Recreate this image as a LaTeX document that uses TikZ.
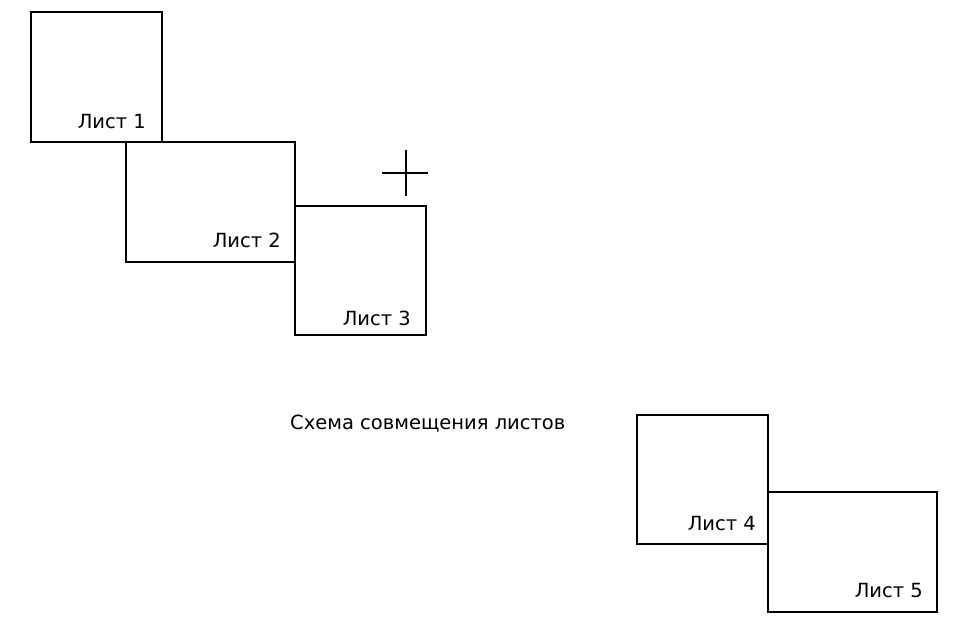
\documentclass[tikz,border=0pt]{standalone}
\usepackage{fontspec}
\setmainfont{DejaVu Sans}

\begin{document}
\begin{tikzpicture}[x=1pt, y=-1pt,
    sheet/.style={draw, line width=1.4pt},
    sheetlabel/.style={anchor=base east, inner sep=0pt, font=\fontsize{19.5}{19.5}\selectfont}]
    \useasboundingbox (0,0) rectangle (955,630);
    \draw[sheet] (31,12) rectangle (162,142);
    \draw[sheet] (126,142) rectangle (295,262);
    \draw[sheet] (295,206) rectangle (426,335);
    \draw[sheet] (637,415) rectangle (768,544);
    \draw[sheet] (768,492) rectangle (937,612);
    \node[sheetlabel] (list1) at (146,128) {Лист 1};
    \node[sheetlabel] (list2) at (281,247) {Лист 2};
    \node[sheetlabel] (list3) at (411,325) {Лист 3};
    \node[sheetlabel] (list4) at (756,530) {Лист 4};
    \node[sheetlabel] (list5) at (923,597) {Лист 5};
    \node[sheetlabel, anchor=base west] (title) at (290,429) {Схема совмещения листов};
    \draw[sheet] (382,173) -- (428,173);
    \draw[sheet] (406,150) -- (406,196);
\end{tikzpicture}
\end{document}
